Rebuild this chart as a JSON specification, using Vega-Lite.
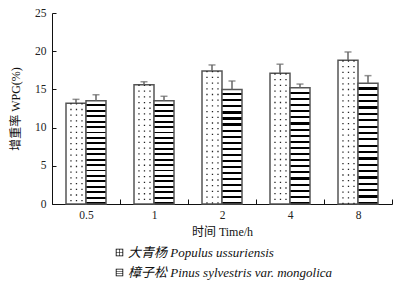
{
  "$schema": "https://vega.github.io/schema/vega-lite/v6.json",
  "width": 340,
  "height": 191,
  "autosize": {"type": "none"},
  "padding": {"left": 52, "top": 13, "right": 6, "bottom": 80},
  "background": "white",
  "config": {
    "view": {"stroke": null},
    "font": "Liberation Serif, Noto Sans CJK SC",
    "axis": {"labelFont": "Liberation Serif", "labelFontSize": 11.5, "labelColor": "#222", "titleFont": "Liberation Serif, Noto Sans CJK SC", "titleFontSize": 12, "titleFontWeight": "normal", "titleColor": "#111", "domainColor": "#111", "tickColor": "#111", "grid": false},
    "legend": {"labelFont": "Liberation Serif, Noto Sans CJK SC"}
  },
  "data": {"values": [
    {"time": "0.5", "species": "大青杨 Populus  ussuriensis", "value": 13.2, "upper": 13.7},
    {"time": "1", "species": "大青杨 Populus  ussuriensis", "value": 15.6, "upper": 16.0},
    {"time": "2", "species": "大青杨 Populus  ussuriensis", "value": 17.4, "upper": 18.2},
    {"time": "4", "species": "大青杨 Populus  ussuriensis", "value": 17.1, "upper": 18.3},
    {"time": "8", "species": "大青杨 Populus  ussuriensis", "value": 18.8, "upper": 19.9},
    {"time": "0.5", "species": "樟子松 Pinus sylvestris var. mongolica", "value": 13.5, "upper": 14.3},
    {"time": "1", "species": "樟子松 Pinus sylvestris var. mongolica", "value": 13.5, "upper": 14.1},
    {"time": "2", "species": "樟子松 Pinus sylvestris var. mongolica", "value": 15.0, "upper": 16.1},
    {"time": "4", "species": "樟子松 Pinus sylvestris var. mongolica", "value": 15.2, "upper": 15.7},
    {"time": "8", "species": "樟子松 Pinus sylvestris var. mongolica", "value": 15.8, "upper": 16.8}
  ]},
  "encoding": {
    "x": {"field": "time", "type": "ordinal", "sort": null,
      "scale": {"paddingInner": 0, "paddingOuter": 0},
      "axis": {"title": "时间 Time/h", "labelAngle": 0, "tickBand": "extent", "tickSize": -5, "labelPadding": 10, "titlePadding": 6}},
    "y": {"field": "value", "type": "quantitative",
      "scale": {"domain": [0, 25], "nice": false},
      "axis": {"title": "增重率 WPG(%)", "values": [0, 5, 10, 15, 20, 25], "tickSize": -4, "labelPadding": 10, "titlePadding": 12}}
  },
  "layer": [
    {
      "transform": [{"filter": "indexof(datum.species, 'Populus') >= 0"}],
      "mark": {"type": "bar", "fill": "white", "stroke": "#555", "strokeWidth": 1.5},
      "encoding": {
        "xOffset": {"field": "species", "type": "nominal", "scale": {"domain": ["大青杨 Populus  ussuriensis", "樟子松 Pinus sylvestris var. mongolica"], "paddingInner": 0, "paddingOuter": 0.7}}
      }
    },
    {
      "transform": [{"filter": "indexof(datum.species, 'Pinus') >= 0"}],
      "mark": {"type": "bar", "stroke": "#555", "strokeWidth": 1.5,
        "fill": {"gradient": "linear", "x1": 0, "y1": 0, "x2": 0, "y2": 1, "stops": [
          {"offset": 0, "color": "white"},
          {"offset": 0.0342, "color": "white"}, {"offset": 0.0342, "color": "black"}, {"offset": 0.0526, "color": "black"}, {"offset": 0.0526, "color": "white"},
          {"offset": 0.0868, "color": "white"}, {"offset": 0.0868, "color": "black"}, {"offset": 0.1053, "color": "black"}, {"offset": 0.1053, "color": "white"},
          {"offset": 0.1395, "color": "white"}, {"offset": 0.1395, "color": "black"}, {"offset": 0.1579, "color": "black"}, {"offset": 0.1579, "color": "white"},
          {"offset": 0.1921, "color": "white"}, {"offset": 0.1921, "color": "black"}, {"offset": 0.2105, "color": "black"}, {"offset": 0.2105, "color": "white"},
          {"offset": 0.2447, "color": "white"}, {"offset": 0.2447, "color": "black"}, {"offset": 0.2632, "color": "black"}, {"offset": 0.2632, "color": "white"},
          {"offset": 0.2974, "color": "white"}, {"offset": 0.2974, "color": "black"}, {"offset": 0.3158, "color": "black"}, {"offset": 0.3158, "color": "white"},
          {"offset": 0.35, "color": "white"}, {"offset": 0.35, "color": "black"}, {"offset": 0.3684, "color": "black"}, {"offset": 0.3684, "color": "white"},
          {"offset": 0.4026, "color": "white"}, {"offset": 0.4026, "color": "black"}, {"offset": 0.4211, "color": "black"}, {"offset": 0.4211, "color": "white"},
          {"offset": 0.4553, "color": "white"}, {"offset": 0.4553, "color": "black"}, {"offset": 0.4737, "color": "black"}, {"offset": 0.4737, "color": "white"},
          {"offset": 0.5079, "color": "white"}, {"offset": 0.5079, "color": "black"}, {"offset": 0.5263, "color": "black"}, {"offset": 0.5263, "color": "white"},
          {"offset": 0.5605, "color": "white"}, {"offset": 0.5605, "color": "black"}, {"offset": 0.5789, "color": "black"}, {"offset": 0.5789, "color": "white"},
          {"offset": 0.6132, "color": "white"}, {"offset": 0.6132, "color": "black"}, {"offset": 0.6316, "color": "black"}, {"offset": 0.6316, "color": "white"},
          {"offset": 0.6658, "color": "white"}, {"offset": 0.6658, "color": "black"}, {"offset": 0.6842, "color": "black"}, {"offset": 0.6842, "color": "white"},
          {"offset": 0.7184, "color": "white"}, {"offset": 0.7184, "color": "black"}, {"offset": 0.7368, "color": "black"}, {"offset": 0.7368, "color": "white"},
          {"offset": 0.7711, "color": "white"}, {"offset": 0.7711, "color": "black"}, {"offset": 0.7895, "color": "black"}, {"offset": 0.7895, "color": "white"},
          {"offset": 0.8237, "color": "white"}, {"offset": 0.8237, "color": "black"}, {"offset": 0.8421, "color": "black"}, {"offset": 0.8421, "color": "white"},
          {"offset": 0.8763, "color": "white"}, {"offset": 0.8763, "color": "black"}, {"offset": 0.8947, "color": "black"}, {"offset": 0.8947, "color": "white"},
          {"offset": 0.9289, "color": "white"}, {"offset": 0.9289, "color": "black"}, {"offset": 0.9474, "color": "black"}, {"offset": 0.9474, "color": "white"},
          {"offset": 0.9816, "color": "white"}, {"offset": 0.9816, "color": "black"}, {"offset": 1, "color": "black"}
        ]}},
      "encoding": {
        "xOffset": {"field": "species", "type": "nominal"}
      }
    },
    {
      "transform": [{"filter": "indexof(datum.species, 'Populus') >= 0"}],
      "mark": {"type": "rule", "color": "#222", "strokeWidth": 1.3, "strokeDash": [1.3, 4.4]},
      "encoding": {"x": {"field": "time", "type": "ordinal", "sort": null, "bandPosition": 0.279}, "y2": {"datum": 0}}
    },
    {
      "transform": [{"filter": "indexof(datum.species, 'Populus') >= 0"}],
      "mark": {"type": "rule", "color": "#222", "strokeWidth": 1.3, "strokeDash": [1.3, 4.4]},
      "encoding": {"x": {"field": "time", "type": "ordinal", "sort": null, "bandPosition": 0.36}, "y2": {"datum": 0}}
    },
    {
      "transform": [{"filter": "indexof(datum.species, 'Populus') >= 0"}],
      "mark": {"type": "rule", "color": "#222", "strokeWidth": 1.3, "strokeDash": [1.3, 4.4]},
      "encoding": {"x": {"field": "time", "type": "ordinal", "sort": null, "bandPosition": 0.441}, "y2": {"datum": 0}}
    },
    {
      "mark": {"type": "rule", "color": "#666", "strokeWidth": 1.5},
      "encoding": {
        "xOffset": {"field": "species", "type": "nominal"},
        "y2": {"field": "upper"}
      }
    },
    {
      "mark": {"type": "tick", "color": "#666", "thickness": 1.5, "size": 7},
      "encoding": {
        "xOffset": {"field": "species", "type": "nominal"},
        "y": {"field": "upper", "type": "quantitative"}
      }
    },
    {
      "mark": {"type": "point", "size": 0, "filled": true, "color": "black", "strokeWidth": 0},
      "encoding": {
        "xOffset": {"field": "species", "type": "nominal"},
        "shape": {"field": "species", "type": "nominal",
          "scale": {"domain": ["大青杨 Populus  ussuriensis", "樟子松 Pinus sylvestris var. mongolica"],
            "range": [
              "M-1,-1H1V1H-1Z M-0.78,-0.78V0.78H0.78V-0.78Z M-0.08,-0.78H0.08V0.78H-0.08Z M-0.78,-0.08H0.78V0.08H-0.78Z",
              "M-1,-1H1V1H-1Z M-0.78,-0.78V0.78H0.78V-0.78Z M-0.78,-0.35H0.78V-0.2H-0.78Z M-0.78,0.2H0.78V0.35H-0.78Z"
            ]},
          "legend": {"title": null, "orient": "none", "legendX": 61, "legendY": 233, "direction": "vertical",
            "symbolSize": 56, "symbolOpacity": 1, "symbolFillColor": "black", "symbolStrokeWidth": 0, "symbolStrokeColor": "transparent",
            "labelFont": "Liberation Serif, Noto Sans CJK SC", "labelFontSize": 13, "labelFontStyle": "italic", "labelColor": "#111", "labelOffset": 2, "rowPadding": 6, "labelLimit": 400}
        }
      }
    }
  ]
}
